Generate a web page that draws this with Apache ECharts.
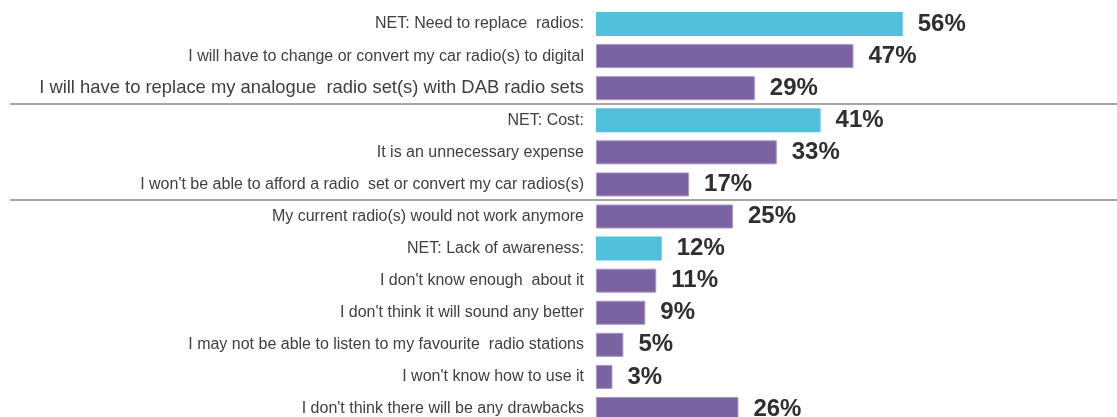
<!DOCTYPE html>
<html>
<head>
<meta charset="utf-8">
<script src="https://cdn.jsdelivr.net/npm/echarts@6/dist/echarts.min.js"></script>
<style>
  html, body { margin: 0; padding: 0; background: #fff; }
  #chart { width: 1117px; height: 417px; }
</style>
</head>
<body>
<div id="chart"></div>
<script>
// Reasons given against switching to digital radio (% of respondents)
const categories = [
  "NET: Need to replace  radios:",
  "I will have to change or convert my car radio(s) to digital",
  "I will have to replace my analogue  radio set(s) with DAB radio sets",
  "NET: Cost:",
  "It is an unnecessary expense",
  "I won't be able to afford a radio  set or convert my car radios(s)",
  "My current radio(s) would not work anymore",
  "NET: Lack of awareness:",
  "I don't know enough  about it",
  "I don't think it will sound any better",
  "I may not be able to listen to my favourite  radio stations",
  "I won't know how to use it",
  "I don't think there will be any drawbacks"
];
const values = [56, 47, 29, 41, 33, 17, 25, 12, 11, 9, 5, 3, 26];
// NET rows summarise the group beneath them
const isNet = [true, false, false, true, false, false, false, true, false, false, false, false, false];
// Group boundaries: a divider is drawn after these row counts
const groupBreaks = [3, 6];

const NET_COLOR = '#50c0db';
const ITEM_COLOR = '#7b62a0';
const FONT = 'Liberation Sans, Arial, sans-serif';

const chart = echarts.init(document.getElementById('chart'));

chart.setOption({
  animation: false,
  grid: {
    left: 596, right: 28, top: 8, height: 417,
    containLabel: false,
    outerBoundsMode: 'none'
  },
  xAxis: {
    type: 'value', min: 0, max: 90,
    show: false
  },
  yAxis: {
    type: 'category',
    data: categories.map((c, i) => i === 2
      ? { value: c, textStyle: { fontSize: 18.4 } }
      : c),
    inverse: true,
    axisLine: { show: false },
    axisTick: { show: false },
    splitLine: { show: false },
    axisLabel: {
      margin: 12,
      fontFamily: FONT,
      fontSize: 16,
      color: '#404040'
    }
  },
  series: [{
    type: 'bar',
    barWidth: 24,
    data: values.map((v, i) => ({
      value: v,
      itemStyle: isNet[i]
        ? { color: NET_COLOR }
        : { color: ITEM_COLOR, borderColor: '#a896c6', borderWidth: 1 }
    })),
    label: {
      show: true,
      position: 'right',
      distance: 15,
      formatter: '{c}%',
      fontFamily: FONT,
      fontWeight: 'bold',
      fontSize: 24,
      color: '#2f2f2f'
    }
  }]
});

// Dividers between the question groups, placed on category band boundaries
function drawDividers() {
  const w = chart.getWidth();
  const elements = groupBreaks.map(n => {
    const a = chart.convertToPixel({ yAxisIndex: 0 }, categories[n - 1]);
    const b = chart.convertToPixel({ yAxisIndex: 0 }, categories[n]);
    const y = Math.round((a + b) / 2);
    return {
      type: 'line',
      shape: { x1: 10, y1: y, x2: w, y2: y },
      style: { stroke: '#a7a7a1', lineWidth: 2 },
      silent: true
    };
  });
  chart.setOption({ graphic: { elements } });
}
drawDividers();
</script>
</body>
</html>
